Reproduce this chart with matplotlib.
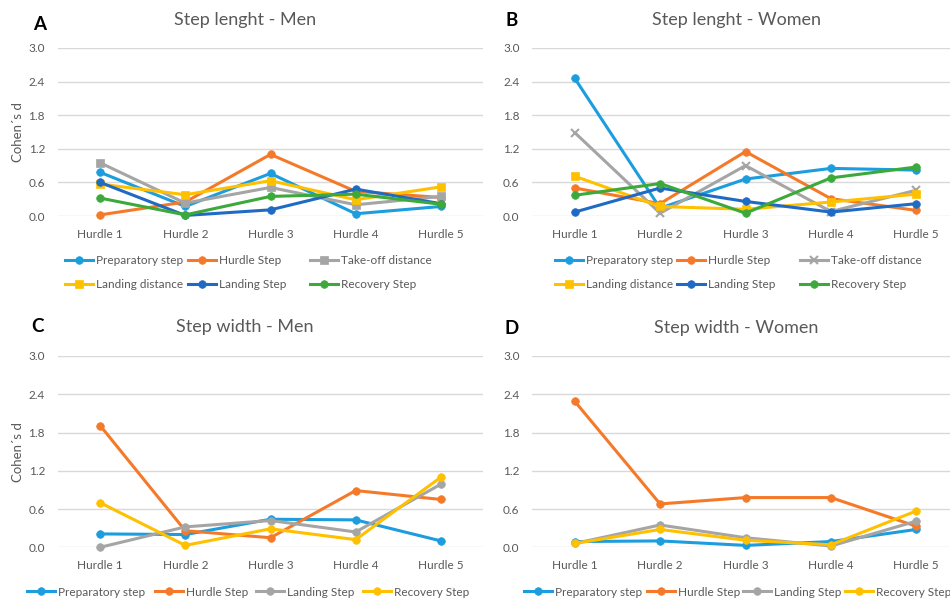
import matplotlib
matplotlib.use("Agg")
import matplotlib.pyplot as plt
from matplotlib.lines import Line2D
from matplotlib.legend import Legend

plt.rcParams['font.family'] = ['Lato', 'DejaVu Sans']

hurdles = ["Hurdle 1", "Hurdle 2", "Hurdle 3", "Hurdle 4", "Hurdle 5"]
yticks = [0.0, 0.6, 1.2, 1.8, 2.4, 3.0]

# Panel A - Step length, Men
a_prep = [0.78, 0.17, 0.76, 0.04, 0.17]
a_hurdle = [0.02, 0.25, 1.10, 0.44, 0.33]
a_takeoff = [0.95, 0.23, 0.51, 0.20, 0.35]
a_landdist = [0.57, 0.38, 0.63, 0.29, 0.52]
a_landstep = [0.60, 0.01, 0.11, 0.48, 0.22]
a_recovery = [0.32, 0.02, 0.35, 0.39, 0.21]

# Panel B - Step length, Women
b_prep = [2.46, 0.14, 0.66, 0.85, 0.82]
b_hurdle = [0.50, 0.22, 1.15, 0.31, 0.10]
b_takeoff = [1.49, 0.05, 0.90, 0.08, 0.46]
b_landdist = [0.71, 0.17, 0.12, 0.25, 0.39]
b_landstep = [0.07, 0.50, 0.26, 0.07, 0.22]
b_recovery = [0.37, 0.58, 0.05, 0.68, 0.875]

# Panel C - Step width, Men
c_prep = [0.21, 0.20, 0.44, 0.43, 0.10]
c_hurdle = [1.91, 0.26, 0.15, 0.89, 0.75]
c_landstep = [0.00, 0.32, 0.42, 0.24, 0.99]
c_recovery = [0.70, 0.03, 0.29, 0.12, 1.10]

# Panel D - Step width, Women
d_prep = [0.09, 0.10, 0.03, 0.09, 0.28]
d_hurdle = [2.29, 0.68, 0.78, 0.78, 0.33]
d_landstep = [0.06, 0.35, 0.15, 0.02, 0.41]
d_recovery = [0.06, 0.28, 0.11, 0.04, 0.57]

C_LB = "#1B9DDE"
C_OR = "#F47A2A"
C_GR = "#A5A5A5"
C_YE = "#FFC000"
C_DB = "#1F6BC4"
C_GN = "#3CAA3A"
TXT = "#595959"
GRID = "#D9D9D9"

W, H = 950, 604
fig = plt.figure(figsize=(9.5, 6.04), dpi=100)


def px_axes(x0, y0, x1, y1):
    return fig.add_axes([x0 / W, 1 - y1 / H, (x1 - x0) / W, (y1 - y0) / H])


def style(ax):
    ax.set_xlim(-0.5, 4.5)
    ax.set_ylim(0, 3.0)
    ax.set_yticks(yticks)
    ax.set_yticklabels([f"{v:.1f}" for v in yticks])
    ax.set_xticks(range(5))
    ax.set_xticklabels(hurdles)
    for s in ax.spines.values():
        s.set_visible(False)
    ax.grid(axis='y', color=GRID, linewidth=1.0)
    ax.set_axisbelow(True)
    ax.tick_params(axis='both', length=0, labelcolor=TXT, labelsize=8.5)
    ax.tick_params(axis='y', pad=9)
    ax.tick_params(axis='x', pad=9)


def draw(ax, series):
    x = list(range(5))
    for vals, color, marker, label in series:
        ms = 6 if marker == 'x' else 5.5
        ax.plot(x, vals, color=color, marker=marker, markersize=ms, linewidth=2.2,
                markeredgewidth=1.5 if marker == 'x' else 0.5, label=label, clip_on=False,
                solid_capstyle='round')


def legend_entry(ax, color, marker, label, xpx, ypx):
    h = Line2D([0], [0], color=color, marker=marker, markersize=5.5 if marker != 'x' else 6,
               linewidth=2.2, markeredgewidth=1.5 if marker == 'x' else 0.5)
    lg = Legend(ax, [h], [label], loc='center left', bbox_to_anchor=(xpx / W, 1 - ypx / H),
                bbox_transform=fig.transFigure, frameon=False, borderpad=0, borderaxespad=0,
                handlelength=2.4, handletextpad=0.25, fontsize=8.5, labelcolor=TXT)
    ax.add_artist(lg)


axA = px_axes(57.5, 48, 483.5, 216)
axB = px_axes(532, 48, 959, 216)
axC = px_axes(57.5, 356, 483.5, 547.3)
axD = px_axes(532, 356, 959, 547.3)

serA = [(a_prep, C_LB, 'o', "Preparatory step"), (a_hurdle, C_OR, 'o', "Hurdle Step"),
        (a_takeoff, C_GR, 's', "Take-off distance"), (a_landdist, C_YE, 's', "Landing distance"),
        (a_landstep, C_DB, 'o', "Landing Step"), (a_recovery, C_GN, 'o', "Recovery Step")]
serB = [(b_prep, C_LB, 'o', "Preparatory step"), (b_hurdle, C_OR, 'o', "Hurdle Step"),
        (b_takeoff, C_GR, 'x', "Take-off distance"), (b_landdist, C_YE, 's', "Landing distance"),
        (b_landstep, C_DB, 'o', "Landing Step"), (b_recovery, C_GN, 'o', "Recovery Step")]
serC = [(c_prep, C_LB, 'o', "Preparatory step"), (c_hurdle, C_OR, 'o', "Hurdle Step"),
        (c_landstep, C_GR, 'o', "Landing Step"), (c_recovery, C_YE, 'o', "Recovery Step")]
serD = [(d_prep, C_LB, 'o', "Preparatory step"), (d_hurdle, C_OR, 'o', "Hurdle Step"),
        (d_landstep, C_GR, 'o', "Landing Step"), (d_recovery, C_YE, 'o', "Recovery Step")]

for ax, ser in [(axA, serA), (axB, serB), (axC, serC), (axD, serD)]:
    style(ax)
    draw(ax, ser)

# y-axis titles
fig.text(18 / W, 1 - 132 / H, "Cohen´s d", rotation=90, ha='center', va='center',
         fontsize=9.5, color=TXT)
fig.text(18 / W, 1 - 452 / H, "Cohen´s d", rotation=90, ha='center', va='center',
         fontsize=9.5, color=TXT)

# legends for A and B (3 columns x 2 rows, order row-wise)
for ax, ser, xs in [(axA, serA, [65, 188, 310]), (axB, serB, [555, 677, 800])]:
    for i, (vals, color, marker, label) in enumerate(ser):
        col, row = i % 3, i // 3
        legend_entry(ax, color, marker, label, xs[col], [261, 285][row])

for ax, ser, xs in [(axC, serC, [27, 155, 256, 363]), (axD, serD, [524, 647, 743, 845])]:
    for i, (vals, color, marker, label) in enumerate(ser):
        legend_entry(ax, color, marker, label, xs[i], 592)

# titles and panel letters
titles = [("Step lenght - Men", 245, 20), ("Step lenght - Women", 736, 20),
          ("Step width - Men", 245, 327), ("Step width - Women", 736, 328)]
for t, x, y in titles:
    fig.text(x / W, 1 - y / H, t, ha='center', va='center', fontsize=13, color=TXT)

letters = [("A", 40, 24), ("B", 512, 20), ("C", 38, 327), ("D", 512, 329)]
for t, x, y in letters:
    fig.text(x / W, 1 - y / H, t, ha='center', va='center', fontsize=13.5, fontweight='bold',
             color='black')

fig.savefig("out.png", dpi=100)
